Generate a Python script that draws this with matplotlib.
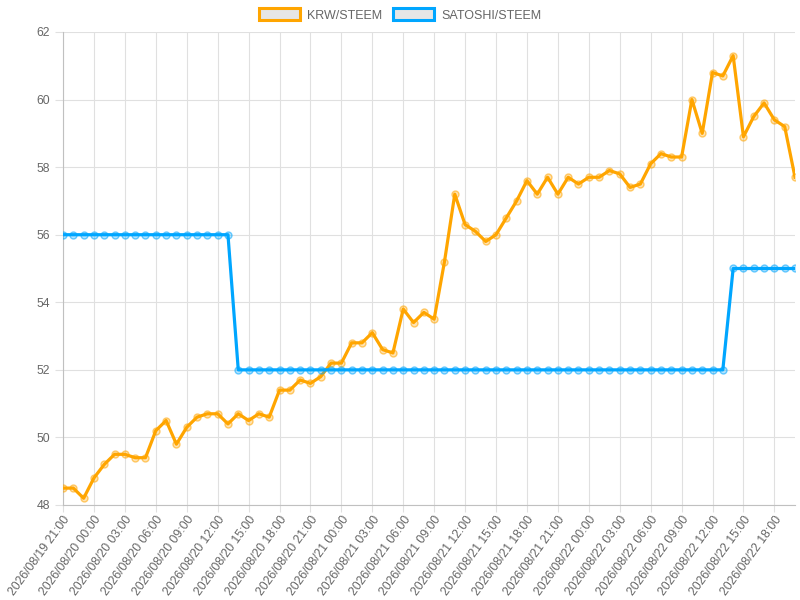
import matplotlib
matplotlib.use("Agg")
import matplotlib.pyplot as plt
import matplotlib.dates as mdates
from matplotlib.patches import Patch
import pandas as pd

# hourly samples starting 2026/08/19 21:00
start = "2026-08-19 21:00"
n_points = 72

krw_steem = [48.5, 48.5, 48.2, 48.8, 49.2, 49.5, 49.5, 49.4, 49.4, 50.2,
             50.5, 49.8, 50.3, 50.6, 50.7, 50.7, 50.4, 50.7, 50.5, 50.7,
             50.6, 51.4, 51.4, 51.7, 51.6, 51.8, 52.2, 52.2, 52.8, 52.8,
             53.1, 52.6, 52.5, 53.8, 53.4, 53.7, 53.5, 55.2, 57.2, 56.3,
             56.1, 55.8, 56.0, 56.5, 57.0, 57.6, 57.2, 57.7, 57.2, 57.7,
             57.5, 57.7, 57.7, 57.9, 57.8, 57.4, 57.5, 58.1, 58.4, 58.3,
             58.3, 60.0, 59.0, 60.8, 60.7, 61.3, 58.9, 59.5, 59.9, 59.4,
             59.2, 57.7]

satoshi_steem = [56] * 17 + [52] * 48 + [55] * 7

labels = ["KRW/STEEM", "SATOSHI/STEEM"]
colors = ["#ffa500", "#00a6ff"]

times = pd.date_range(start, periods=n_points, freq="h")

plt.rcParams['font.family'] = ['Liberation Sans', 'DejaVu Sans']
fig = plt.figure(figsize=(8, 6), dpi=100)
ax = fig.add_axes([63/800, 1 - 505/600, (795 - 63)/800, (505 - 32)/600])

for series, c in zip([krw_steem, satoshi_steem], colors):
    ax.plot(times, series, color=c, lw=2.3, zorder=3)
    ax.plot(times, series, ls="none", marker="o", ms=5,
            mfc=matplotlib.colors.to_rgba(c, 0.3),
            mec=matplotlib.colors.to_rgba(c, 0.55), mew=1, zorder=4)

ax.set_xlim(times[0], times[-1])
ax.set_ylim(48, 62)
ax.set_yticks(range(48, 63, 2))
ax.xaxis.set_major_locator(mdates.HourLocator(byhour=range(0, 24, 3)))
ax.xaxis.set_major_formatter(mdates.DateFormatter("%Y/%m/%d %H:%M"))

ax.grid(True, color="#e0e0e0", lw=0.8, zorder=0)
for side in ["top", "right"]:
    ax.spines[side].set_visible(False)
for side in ["left", "bottom"]:
    ax.spines[side].set_color("#c0c0c0")
ax.tick_params(colors="#666666", labelsize=8.8, length=6, width=0.8)
ax.tick_params(axis="x", length=5, pad=1.5)
ax.tick_params(axis="both", color="#e0e0e0")
plt.setp(ax.get_xticklabels(), rotation=54, ha="right", rotation_mode="anchor")

handles = [Patch(facecolor="#e6e6e6", edgecolor=c, lw=2.2) for c in colors]
leg = fig.legend(handles, labels, loc="center", bbox_to_anchor=(0.5, 1 - 15/600),
                 ncol=2, frameon=False, fontsize=9, handlelength=3.3,
                 handleheight=1.1, handletextpad=0.6, columnspacing=0.8)
for t in leg.get_texts():
    t.set_color("#666666")

fig.savefig("out.png", dpi=100)
